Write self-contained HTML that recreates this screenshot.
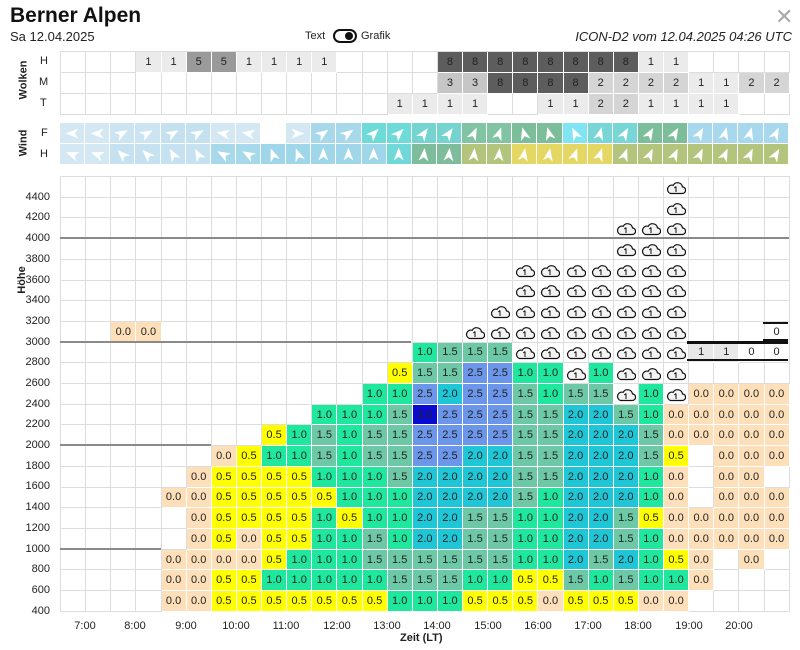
<!DOCTYPE html>
<html><head><meta charset="utf-8"><style>
body{margin:0;width:800px;height:650px;background:#fff;position:relative;overflow:hidden;font-family:"Liberation Sans",sans-serif;color:#222}
.ab{position:absolute}
.grid{position:absolute;left:60px;display:grid;grid-template-columns:repeat(29,25.14px);border-top:1px solid #ddd;border-left:1px solid #ddd;box-sizing:border-box}
.grid>*{box-sizing:border-box;border-right:1px solid #ddd;border-bottom:1px solid #ddd;font:11px "Liberation Sans",sans-serif;display:flex;align-items:center;justify-content:center;font-style:normal;font-weight:normal;text-decoration:none;color:#222}
#m{top:176px;grid-auto-rows:20.71px;width:730px}
#w{top:51px;grid-auto-rows:21px;width:730px}
#f{top:123px;grid-auto-rows:21px;width:730px;border:none}
#f>*{border-color:#fff}
.z,.y,.g,.m,.t,.b,.d,.w1,.w2,.w3,.w5,.w8,.q{border-color:#fff!important}
.z{background:#fde0b9}.y{background:#ffff00}.g{background:#1fe89e}.m{background:#6dc8a6}.t{background:#1fc6d6}.b{background:#6b96ea}.d{background:#0a0ad0}
.w1{background:#ebebeb}.w2{background:#d5d5d5}.w3{background:#c6c6c6}.w5{background:#9a9a9a}.w8{background:#5d5d5d}
.q{background:#e8e8e8}
.c svg{width:20px;height:16px}
.a::before{content:"";width:10px;height:13px;background:#fff;clip-path:polygon(50% 0,100% 100%,50% 72%,0 100%);transform:rotate(var(--r))}
.yl{position:absolute;left:0;width:50px;text-align:right;font-size:11px;line-height:12px}
.xl{position:absolute;top:620px;width:50px;text-align:center;font-size:11px;margin-left:-25px}
.rl{position:absolute;font-weight:bold;font-size:11px;transform:rotate(-90deg);transform-origin:center}
.ln{position:absolute;height:2px;background:#8a8a8a}
.bk{position:absolute;background:#111}
</style></head><body>
<svg width="0" height="0" style="position:absolute"><defs><symbol id="cl" viewBox="0 0 20 16"><path d="M4.5 14.5H16a3.3 3.3 0 0 0 0.5-6.6A5 5 0 0 0 7.2 6.3 4.2 4.2 0 0 0 4.5 14.5Z" fill="#f3f3f3" stroke="#111" stroke-width="1.2"/><path d="M10 13V7.5M8.3 9 10 7.5" fill="none" stroke="#111" stroke-width="1"/></symbol></defs></svg>

<div class="ab" style="left:10px;top:4px;font-size:21px;font-weight:bold;color:#111">Berner Alpen</div>
<div class="ab" style="left:10px;top:29px;font-size:13px">Sa 12.04.2025</div>
<div class="ab" style="left:305px;top:30px;font-size:11px">Text</div>
<div class="ab" style="left:333px;top:29px;width:20px;height:10px;border:2px solid #111;border-radius:8px"></div>
<div class="ab" style="left:345px;top:32px;width:8px;height:8px;border-radius:50%;background:#111"></div>
<div class="ab" style="left:361px;top:30px;font-size:11px">Grafik</div>
<div class="ab" style="right:8px;top:29px;font-size:13px;font-style:italic">ICON-D2 vom 12.04.2025 04:26 UTC</div>
<div class="ab" style="left:775px;top:4px;font-size:22px;color:#aaa">✕</div>

<div class="rl" style="left:4px;top:74px">Wolken</div>
<div class="ab" style="left:40px;top:55px;font-size:11px">H</div>
<div class="ab" style="left:39px;top:76px;font-size:11px">M</div>
<div class="ab" style="left:40px;top:97px;font-size:11px">T</div>
<div class="rl" style="left:10px;top:137px">Wind</div>
<div class="ab" style="left:41px;top:127px;font-size:11px">F</div>
<div class="ab" style="left:40px;top:148px;font-size:11px">H</div>

<div class="grid" id="w">
<i></i><i></i><i></i><b class="w1">1</b><b class="w1">1</b><b class="w5">5</b><b class="w5">5</b><b class="w1">1</b><b class="w1">1</b><b class="w1">1</b><b class="w1">1</b><i></i><i></i><i></i><i></i><b class="w8">8</b><b class="w8">8</b><b class="w8">8</b><b class="w8">8</b><b class="w8">8</b><b class="w8">8</b><b class="w8">8</b><b class="w8">8</b><b class="w1">1</b><b class="w1">1</b><i></i><i></i><i></i><i></i>
<i></i><i></i><i></i><i></i><i></i><i></i><i></i><i></i><i></i><i></i><i></i><i></i><i></i><i></i><i></i><b class="w3">3</b><b class="w3">3</b><b class="w8">8</b><b class="w8">8</b><b class="w8">8</b><b class="w8">8</b><b class="w2">2</b><b class="w2">2</b><b class="w2">2</b><b class="w2">2</b><b class="w1">1</b><b class="w1">1</b><b class="w2">2</b><b class="w2">2</b>
<i></i><i></i><i></i><i></i><i></i><i></i><i></i><i></i><i></i><i></i><i></i><i></i><i></i><b class="w1">1</b><b class="w1">1</b><b class="w1">1</b><b class="w1">1</b><i></i><i></i><b class="w1">1</b><b class="w1">1</b><b class="w2">2</b><b class="w2">2</b><b class="w1">1</b><b class="w1">1</b><b class="w1">1</b><b class="w1">1</b><i></i><i></i>
</div>

<div class="grid" id="f">
<i class="a" style="background:#d3e8f3;--r:270deg"></i><i class="a" style="background:#d3e8f3;--r:270deg"></i><i class="a" style="background:#cde5f2;--r:60deg"></i><i class="a" style="background:#cde5f2;--r:60deg"></i><i class="a" style="background:#c3e1ef;--r:60deg"></i><i class="a" style="background:#c3e1ef;--r:60deg"></i><i class="a" style="background:#d3e8f3;--r:280deg"></i><i class="a" style="background:#d3e8f3;--r:280deg"></i><i style="background:#fff"></i><i class="a" style="background:#d3e8f3;--r:90deg"></i><i class="a" style="background:#a8d9ea;--r:55deg"></i><i class="a" style="background:#a8d9ea;--r:55deg"></i><i class="a" style="background:#6fdbd8;--r:45deg"></i><i class="a" style="background:#6fdbd8;--r:45deg"></i><i class="a" style="background:#75d4d0;--r:35deg"></i><i class="a" style="background:#75d4d0;--r:35deg"></i><i class="a" style="background:#80c4a4;--r:25deg"></i><i class="a" style="background:#80c4a4;--r:20deg"></i><i class="a" style="background:#7cbd9a;--r:345deg"></i><i class="a" style="background:#7cbd9a;--r:345deg"></i><i class="a" style="background:#80e4f2;--r:335deg"></i><i class="a" style="background:#78d6d6;--r:15deg"></i><i class="a" style="background:#78d6d6;--r:30deg"></i><i class="a" style="background:#7cbd9a;--r:30deg"></i><i class="a" style="background:#7cbd9a;--r:30deg"></i><i class="a" style="background:#a8d8ee;--r:30deg"></i><i class="a" style="background:#a8d8ee;--r:15deg"></i><i class="a" style="background:#a8d8ee;--r:15deg"></i><i class="a" style="background:#a8d8ee;--r:25deg"></i>
<i class="a" style="background:#d3e8f3;--r:290deg"></i><i class="a" style="background:#d3e8f3;--r:290deg"></i><i class="a" style="background:#c6e2f0;--r:315deg"></i><i class="a" style="background:#c6e2f0;--r:315deg"></i><i class="a" style="background:#c6e2f0;--r:330deg"></i><i class="a" style="background:#c6e2f0;--r:330deg"></i><i class="a" style="background:#a8d9ea;--r:300deg"></i><i class="a" style="background:#a8d9ea;--r:300deg"></i><i class="a" style="background:#9fd6e9;--r:340deg"></i><i class="a" style="background:#9fd6e9;--r:340deg"></i><i class="a" style="background:#9fd6e9;--r:0deg"></i><i class="a" style="background:#9fd6e9;--r:0deg"></i><i class="a" style="background:#9fd6e9;--r:0deg"></i><i class="a" style="background:#70d8d8;--r:0deg"></i><i class="a" style="background:#7dbd9c;--r:5deg"></i><i class="a" style="background:#7dbd9c;--r:5deg"></i><i class="a" style="background:#b3c57c;--r:5deg"></i><i class="a" style="background:#b3c57c;--r:5deg"></i><i class="a" style="background:#e4d764;--r:10deg"></i><i class="a" style="background:#e4d764;--r:10deg"></i><i class="a" style="background:#e4d764;--r:20deg"></i><i class="a" style="background:#e4d764;--r:20deg"></i><i class="a" style="background:#b3c57c;--r:20deg"></i><i class="a" style="background:#b3c57c;--r:25deg"></i><i class="a" style="background:#b3c57c;--r:25deg"></i><i class="a" style="background:#b3c57c;--r:25deg"></i><i class="a" style="background:#b3c57c;--r:25deg"></i><i class="a" style="background:#b3c57c;--r:25deg"></i><i class="a" style="background:#b3c57c;--r:30deg"></i>
</div>

<div class="rl" style="left:8px;top:274px">Höhe</div>
<div class="yl" style="top:605px">400</div><div class="yl" style="top:584px">600</div><div class="yl" style="top:563px">800</div><div class="yl" style="top:543px">1000</div><div class="yl" style="top:522px">1200</div><div class="yl" style="top:501px">1400</div><div class="yl" style="top:480px">1600</div><div class="yl" style="top:460px">1800</div><div class="yl" style="top:439px">2000</div><div class="yl" style="top:418px">2200</div><div class="yl" style="top:398px">2400</div><div class="yl" style="top:377px">2600</div><div class="yl" style="top:356px">2800</div><div class="yl" style="top:336px">3000</div><div class="yl" style="top:315px">3200</div><div class="yl" style="top:294px">3400</div><div class="yl" style="top:274px">3600</div><div class="yl" style="top:253px">3800</div><div class="yl" style="top:232px">4000</div><div class="yl" style="top:211px">4200</div><div class="yl" style="top:191px">4400</div>

<div class="grid" id="m">
<!-- r20 -->
<i></i><i></i><i></i><i></i><i></i><i></i><i></i><i></i><i></i><i></i><i></i><i></i><i></i><i></i><i></i><i></i><i></i><i></i><i></i><i></i><i></i><i></i><i></i><i></i><i class="c"><svg><use href="#cl"/></svg></i><i></i><i></i><i></i><i></i>
<!-- r19 -->
<i></i><i></i><i></i><i></i><i></i><i></i><i></i><i></i><i></i><i></i><i></i><i></i><i></i><i></i><i></i><i></i><i></i><i></i><i></i><i></i><i></i><i></i><i></i><i></i><i class="c"><svg><use href="#cl"/></svg></i><i></i><i></i><i></i><i></i>
<!-- r18 -->
<i></i><i></i><i></i><i></i><i></i><i></i><i></i><i></i><i></i><i></i><i></i><i></i><i></i><i></i><i></i><i></i><i></i><i></i><i></i><i></i><i></i><i></i><i class="c"><svg><use href="#cl"/></svg></i><i class="c"><svg><use href="#cl"/></svg></i><i class="c"><svg><use href="#cl"/></svg></i><i></i><i></i><i></i><i></i>
<!-- r17 -->
<i></i><i></i><i></i><i></i><i></i><i></i><i></i><i></i><i></i><i></i><i></i><i></i><i></i><i></i><i></i><i></i><i></i><i></i><i></i><i></i><i></i><i></i><i class="c"><svg><use href="#cl"/></svg></i><i class="c"><svg><use href="#cl"/></svg></i><i class="c"><svg><use href="#cl"/></svg></i><i></i><i></i><i></i><i></i>
<!-- r16 -->
<i></i><i></i><i></i><i></i><i></i><i></i><i></i><i></i><i></i><i></i><i></i><i></i><i></i><i></i><i></i><i></i><i></i><i></i><i class="c"><svg><use href="#cl"/></svg></i><i class="c"><svg><use href="#cl"/></svg></i><i class="c"><svg><use href="#cl"/></svg></i><i class="c"><svg><use href="#cl"/></svg></i><i class="c"><svg><use href="#cl"/></svg></i><i class="c"><svg><use href="#cl"/></svg></i><i class="c"><svg><use href="#cl"/></svg></i><i></i><i></i><i></i><i></i>
<!-- r15 -->
<i></i><i></i><i></i><i></i><i></i><i></i><i></i><i></i><i></i><i></i><i></i><i></i><i></i><i></i><i></i><i></i><i></i><i></i><i class="c"><svg><use href="#cl"/></svg></i><i class="c"><svg><use href="#cl"/></svg></i><i class="c"><svg><use href="#cl"/></svg></i><i class="c"><svg><use href="#cl"/></svg></i><i class="c"><svg><use href="#cl"/></svg></i><i class="c"><svg><use href="#cl"/></svg></i><i class="c"><svg><use href="#cl"/></svg></i><i></i><i></i><i></i><i></i>
<!-- r14 -->
<i></i><i></i><i></i><i></i><i></i><i></i><i></i><i></i><i></i><i></i><i></i><i></i><i></i><i></i><i></i><i></i><i></i><i class="c"><svg><use href="#cl"/></svg></i><i class="c"><svg><use href="#cl"/></svg></i><i class="c"><svg><use href="#cl"/></svg></i><i class="c"><svg><use href="#cl"/></svg></i><i class="c"><svg><use href="#cl"/></svg></i><i class="c"><svg><use href="#cl"/></svg></i><i class="c"><svg><use href="#cl"/></svg></i><i class="c"><svg><use href="#cl"/></svg></i><i></i><i></i><i></i><i></i>
<!-- r13 -->
<i></i><i></i><b class="z">0.0</b><b class="z">0.0</b><i></i><i></i><i></i><i></i><i></i><i></i><i></i><i></i><i></i><i></i><i></i><i></i><i class="c"><svg><use href="#cl"/></svg></i><i class="c"><svg><use href="#cl"/></svg></i><i class="c"><svg><use href="#cl"/></svg></i><i class="c"><svg><use href="#cl"/></svg></i><i class="c"><svg><use href="#cl"/></svg></i><i class="c"><svg><use href="#cl"/></svg></i><i class="c"><svg><use href="#cl"/></svg></i><i class="c"><svg><use href="#cl"/></svg></i><i class="c"><svg><use href="#cl"/></svg></i><i></i><i></i><i></i><i>0</i>
<!-- r12 -->
<i></i><i></i><i></i><i></i><i></i><i></i><i></i><i></i><i></i><i></i><i></i><i></i><i></i><i></i><b class="g">1.0</b><b class="m">1.5</b><b class="m">1.5</b><b class="m">1.5</b><i class="c"><svg><use href="#cl"/></svg></i><i class="c"><svg><use href="#cl"/></svg></i><i class="c"><svg><use href="#cl"/></svg></i><i class="c"><svg><use href="#cl"/></svg></i><i class="c"><svg><use href="#cl"/></svg></i><i class="c"><svg><use href="#cl"/></svg></i><i class="c"><svg><use href="#cl"/></svg></i><b class="q">1</b><b class="q">1</b><i>0</i><i>0</i>
<!-- r11 -->
<i></i><i></i><i></i><i></i><i></i><i></i><i></i><i></i><i></i><i></i><i></i><i></i><i></i><b class="y">0.5</b><b class="m">1.5</b><b class="m">1.5</b><b class="b">2.5</b><b class="b">2.5</b><b class="g">1.0</b><b class="g">1.0</b><i class="c"><svg><use href="#cl"/></svg></i><b class="g">1.0</b><i class="c"><svg><use href="#cl"/></svg></i><i class="c"><svg><use href="#cl"/></svg></i><i class="c"><svg><use href="#cl"/></svg></i><i></i><i></i><i></i><i></i>
<!-- r10 -->
<i></i><i></i><i></i><i></i><i></i><i></i><i></i><i></i><i></i><i></i><i></i><i></i><b class="g">1.0</b><b class="g">1.0</b><b class="b">2.5</b><b class="t">2.0</b><b class="b">2.5</b><b class="b">2.5</b><b class="m">1.5</b><b class="g">1.0</b><b class="m">1.5</b><b class="m">1.5</b><i class="c"><svg><use href="#cl"/></svg></i><b class="g">1.0</b><i class="c"><svg><use href="#cl"/></svg></i><b class="z">0.0</b><b class="z">0.0</b><b class="z">0.0</b><b class="z">0.0</b>
<!-- r9 -->
<i></i><i></i><i></i><i></i><i></i><i></i><i></i><i></i><i></i><i></i><b class="g">1.0</b><b class="g">1.0</b><b class="g">1.0</b><b class="m">1.5</b><b class="d">3.0</b><b class="b">2.5</b><b class="b">2.5</b><b class="b">2.5</b><b class="m">1.5</b><b class="m">1.5</b><b class="t">2.0</b><b class="t">2.0</b><b class="m">1.5</b><b class="g">1.0</b><b class="z">0.0</b><b class="z">0.0</b><b class="z">0.0</b><b class="z">0.0</b><b class="z">0.0</b>
<!-- r8 -->
<i></i><i></i><i></i><i></i><i></i><i></i><i></i><i></i><b class="y">0.5</b><b class="g">1.0</b><b class="m">1.5</b><b class="g">1.0</b><b class="m">1.5</b><b class="m">1.5</b><b class="b">2.5</b><b class="b">2.5</b><b class="b">2.5</b><b class="b">2.5</b><b class="m">1.5</b><b class="m">1.5</b><b class="t">2.0</b><b class="t">2.0</b><b class="t">2.0</b><b class="m">1.5</b><b class="z">0.0</b><b class="z">0.0</b><b class="z">0.0</b><b class="z">0.0</b><b class="z">0.0</b>
<!-- r7 -->
<i></i><i></i><i></i><i></i><i></i><i></i><b class="z">0.0</b><b class="y">0.5</b><b class="g">1.0</b><b class="g">1.0</b><b class="m">1.5</b><b class="g">1.0</b><b class="m">1.5</b><b class="m">1.5</b><b class="b">2.5</b><b class="b">2.5</b><b class="t">2.0</b><b class="t">2.0</b><b class="m">1.5</b><b class="m">1.5</b><b class="t">2.0</b><b class="t">2.0</b><b class="t">2.0</b><b class="m">1.5</b><b class="y">0.5</b><i></i><b class="z">0.0</b><b class="z">0.0</b><b class="z">0.0</b>
<!-- r6 -->
<i></i><i></i><i></i><i></i><i></i><b class="z">0.0</b><b class="y">0.5</b><b class="y">0.5</b><b class="y">0.5</b><b class="y">0.5</b><b class="g">1.0</b><b class="g">1.0</b><b class="g">1.0</b><b class="m">1.5</b><b class="t">2.0</b><b class="t">2.0</b><b class="t">2.0</b><b class="t">2.0</b><b class="m">1.5</b><b class="m">1.5</b><b class="t">2.0</b><b class="t">2.0</b><b class="t">2.0</b><b class="g">1.0</b><b class="z">0.0</b><i></i><b class="z">0.0</b><b class="z">0.0</b><i></i>
<!-- r5 -->
<i></i><i></i><i></i><i></i><b class="z">0.0</b><b class="z">0.0</b><b class="y">0.5</b><b class="y">0.5</b><b class="y">0.5</b><b class="y">0.5</b><b class="y">0.5</b><b class="g">1.0</b><b class="g">1.0</b><b class="g">1.0</b><b class="t">2.0</b><b class="t">2.0</b><b class="t">2.0</b><b class="t">2.0</b><b class="m">1.5</b><b class="g">1.0</b><b class="t">2.0</b><b class="t">2.0</b><b class="t">2.0</b><b class="g">1.0</b><b class="z">0.0</b><i></i><b class="z">0.0</b><b class="z">0.0</b><b class="z">0.0</b>
<!-- r4 -->
<i></i><i></i><i></i><i></i><i></i><b class="z">0.0</b><b class="y">0.5</b><b class="y">0.5</b><b class="y">0.5</b><b class="y">0.5</b><b class="g">1.0</b><b class="y">0.5</b><b class="g">1.0</b><b class="g">1.0</b><b class="t">2.0</b><b class="t">2.0</b><b class="m">1.5</b><b class="m">1.5</b><b class="g">1.0</b><b class="g">1.0</b><b class="t">2.0</b><b class="t">2.0</b><b class="m">1.5</b><b class="y">0.5</b><b class="z">0.0</b><b class="z">0.0</b><b class="z">0.0</b><b class="z">0.0</b><b class="z">0.0</b>
<!-- r3 -->
<i></i><i></i><i></i><i></i><i></i><b class="z">0.0</b><b class="y">0.5</b><b class="z">0.0</b><b class="y">0.5</b><b class="y">0.5</b><b class="g">1.0</b><b class="g">1.0</b><b class="m">1.5</b><b class="g">1.0</b><b class="t">2.0</b><b class="t">2.0</b><b class="m">1.5</b><b class="m">1.5</b><b class="g">1.0</b><b class="g">1.0</b><b class="t">2.0</b><b class="t">2.0</b><b class="m">1.5</b><b class="g">1.0</b><b class="z">0.0</b><b class="z">0.0</b><b class="z">0.0</b><b class="z">0.0</b><b class="z">0.0</b>
<!-- r2 -->
<i></i><i></i><i></i><i></i><b class="z">0.0</b><b class="z">0.0</b><b class="z">0.0</b><b class="z">0.0</b><b class="y">0.5</b><b class="g">1.0</b><b class="g">1.0</b><b class="g">1.0</b><b class="m">1.5</b><b class="m">1.5</b><b class="m">1.5</b><b class="m">1.5</b><b class="m">1.5</b><b class="m">1.5</b><b class="g">1.0</b><b class="g">1.0</b><b class="t">2.0</b><b class="m">1.5</b><b class="t">2.0</b><b class="g">1.0</b><b class="y">0.5</b><b class="z">0.0</b><i></i><b class="z">0.0</b><i></i>
<!-- r1 -->
<i></i><i></i><i></i><i></i><b class="z">0.0</b><b class="z">0.0</b><b class="y">0.5</b><b class="y">0.5</b><b class="g">1.0</b><b class="g">1.0</b><b class="g">1.0</b><b class="g">1.0</b><b class="g">1.0</b><b class="m">1.5</b><b class="m">1.5</b><b class="m">1.5</b><b class="g">1.0</b><b class="g">1.0</b><b class="y">0.5</b><b class="y">0.5</b><b class="m">1.5</b><b class="g">1.0</b><b class="m">1.5</b><b class="g">1.0</b><b class="g">1.0</b><b class="z">0.0</b><i></i><i></i><i></i>
<!-- r0 -->
<i></i><i></i><i></i><i></i><b class="z">0.0</b><b class="z">0.0</b><b class="y">0.5</b><b class="y">0.5</b><b class="y">0.5</b><b class="y">0.5</b><b class="y">0.5</b><b class="y">0.5</b><b class="y">0.5</b><b class="g">1.0</b><b class="g">1.0</b><b class="g">1.0</b><b class="y">0.5</b><b class="y">0.5</b><b class="y">0.5</b><b class="z">0.0</b><b class="y">0.5</b><b class="y">0.5</b><b class="y">0.5</b><b class="z">0.0</b><b class="z">0.0</b><i></i><i></i><i></i><i></i>
</div>

<div class="ln" style="left:60px;top:548px;width:101px"></div>
<div class="ln" style="left:60px;top:444px;width:151px"></div>
<div class="ln" style="left:60px;top:341px;width:351px"></div>
<div class="ln" style="left:60px;top:237px;width:729px"></div>
<div class="bk" style="left:687px;top:341px;width:101px;height:3px"></div>
<div class="bk" style="left:687px;top:359px;width:101px;height:2px"></div>
<div class="bk" style="left:763px;top:322px;width:25px;height:2px"></div>
<div class="bk" style="left:763px;top:339px;width:25px;height:2px"></div>

<div class="xl" style="left:85px">7:00</div><div class="xl" style="left:135px">8:00</div><div class="xl" style="left:186px">9:00</div><div class="xl" style="left:236px">10:00</div><div class="xl" style="left:286px">11:00</div><div class="xl" style="left:337px">12:00</div><div class="xl" style="left:387px">13:00</div><div class="xl" style="left:437px">14:00</div><div class="xl" style="left:488px">15:00</div><div class="xl" style="left:538px">16:00</div><div class="xl" style="left:588px">17:00</div><div class="xl" style="left:638px">18:00</div><div class="xl" style="left:689px">19:00</div><div class="xl" style="left:739px">20:00</div>
<div class="ab" style="left:400px;top:632px;font-size:11px;font-weight:bold">Zeit (LT)</div>
</body></html>
